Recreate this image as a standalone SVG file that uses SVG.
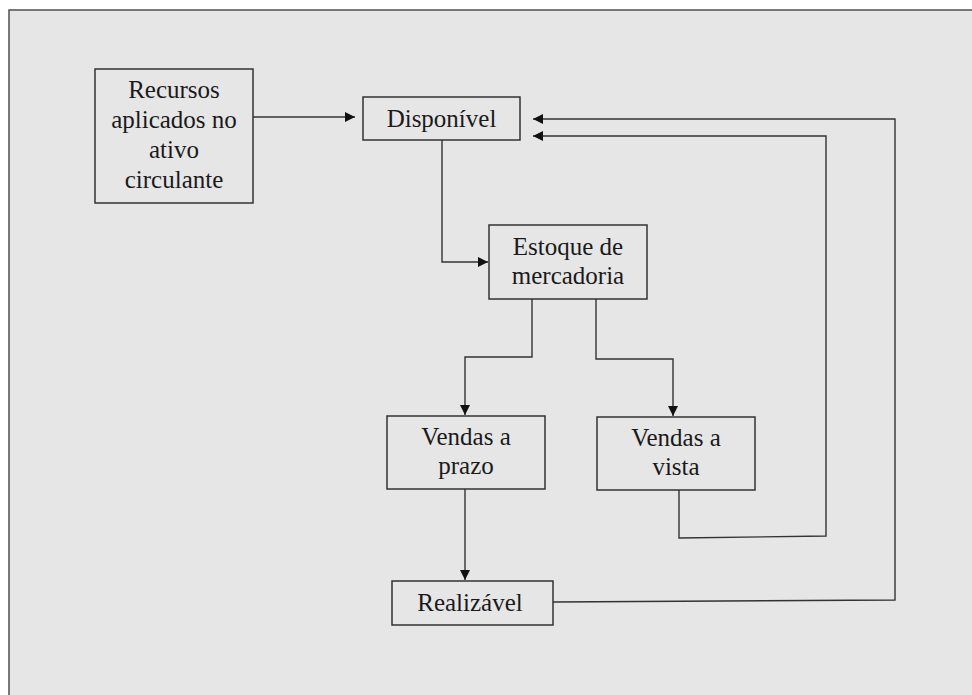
<svg xmlns="http://www.w3.org/2000/svg" width="972" height="695" viewBox="0 0 972 695">
  <style>
    .box { fill: #e6e6e6; stroke: #333; stroke-width: 1.5; }
    .lbl { font-family: "Liberation Serif", "Times New Roman", serif; font-size: 25px; fill: #1a1a1a; text-anchor: middle; }
    .wire { fill: none; stroke: #333; stroke-width: 1.4; }
  </style>
  <defs>
    <marker id="head" viewBox="0 0 10 10" refX="10" refY="5" markerWidth="10" markerHeight="10" markerUnits="userSpaceOnUse" orient="auto">
      <path d="M0,0 L10,5 L0,10 z" fill="#111"/>
    </marker>
  </defs>

  <!-- page background and frame -->
  <rect x="0" y="0" width="972" height="695" fill="#ffffff"/>
  <rect x="9" y="10" width="975" height="700" fill="#e6e6e6" stroke="#444" stroke-width="1.4"/>

  <!-- connectors -->
  <g id="connectors">
    <path class="wire" d="M253,117 H355" marker-end="url(#head)"/>
    <path class="wire" d="M442,140 V262 H488" marker-end="url(#head)"/>
    <path class="wire" d="M532,299 V357 H465 V415" marker-end="url(#head)"/>
    <path class="wire" d="M596,299 V359 H673 V416" marker-end="url(#head)"/>
    <path class="wire" d="M465,489 V580" marker-end="url(#head)"/>
    <path class="wire" d="M679,490 V538 L826,536 V136 H533" marker-end="url(#head)"/>
    <path class="wire" d="M553,602 L895,600 V119 H533" marker-end="url(#head)"/>
  </g>

  <g id="recursos">
    <rect class="box" x="95" y="69" width="158" height="134"/>
    <text class="lbl" x="174" y="98">Recursos</text>
    <text class="lbl" x="174" y="128">aplicados no</text>
    <text class="lbl" x="174" y="158">ativo</text>
    <text class="lbl" x="174" y="188">circulante</text>
  </g>

  <g id="disponivel">
    <rect class="box" x="363" y="97" width="157" height="43"/>
    <text class="lbl" x="441.5" y="127">Disponível</text>
  </g>

  <g id="estoque">
    <rect class="box" x="489" y="225" width="158" height="74"/>
    <text class="lbl" x="568" y="255">Estoque de</text>
    <text class="lbl" x="568" y="284">mercadoria</text>
  </g>

  <g id="vendas-prazo">
    <rect class="box" x="387" y="416" width="158" height="73"/>
    <text class="lbl" x="466" y="445">Vendas a</text>
    <text class="lbl" x="466" y="474">prazo</text>
  </g>

  <g id="vendas-vista">
    <rect class="box" x="597" y="417" width="158" height="73"/>
    <text class="lbl" x="676" y="446">Vendas a</text>
    <text class="lbl" x="676" y="475">vista</text>
  </g>

  <g id="realizavel">
    <rect class="box" x="392" y="581" width="161" height="44"/>
    <text class="lbl" x="470" y="611">Realizável</text>
  </g>
</svg>
